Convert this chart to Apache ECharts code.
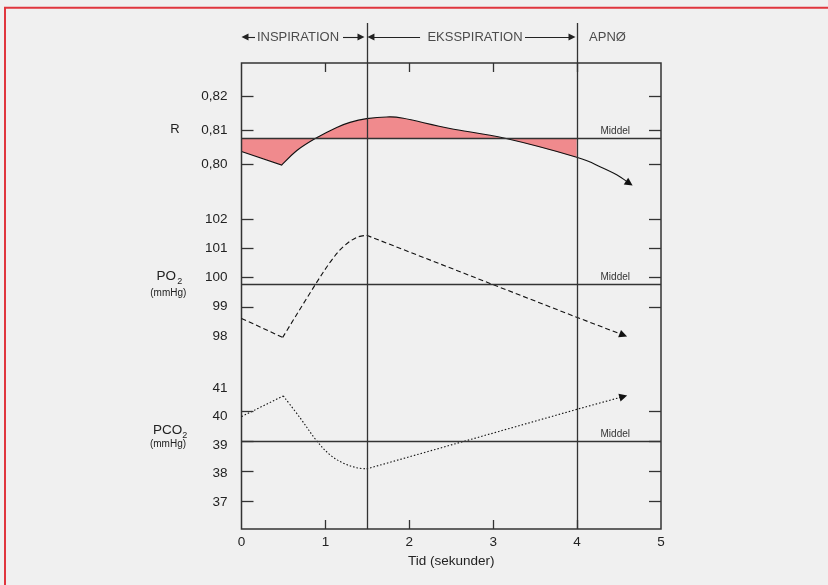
<!DOCTYPE html>
<html><head><meta charset="utf-8">
<script src="https://cdn.jsdelivr.net/npm/echarts@6/dist/echarts.min.js"></script>
<style>html,body{margin:0;padding:0;background:#f0f0f0;}#c{width:828px;height:585px;}</style>
</head><body><div id="c"></div>
<script>
// ---------- data ----------
const xTickValues = [1, 2, 3, 4];
const xLabelValues = [0, 1, 2, 3, 4, 5];
const phaseBounds = [1.5, 4];
const phaseNames = ['INSPIRATION', 'EKSSPIRATION', 'APNØ'];

const rX = [0, 0.479, 0.66, 0.884, 1.135, 1.293, 1.492, 1.730, 1.929, 2.485, 3.141, 3.995, 4.273, 4.472, 4.622];
const rY = [0.8037, 0.7997, 0.8040, 0.8076, 0.8108, 0.8123, 0.8134, 0.8139, 0.8135, 0.8105, 0.8076, 0.8020, 0.7992, 0.7968, 0.7943];
const rMean = 0.8076;
const rFillEnd = 11; // last index of the shaded part (t = 4 s)
const rTicks = [0.80, 0.81, 0.82];

const poX = [0, 0.491, 0.884, 1.075, 1.214, 1.373, 1.492, 3.995, 4.551];
const poY = [98.60, 97.95, 99.78, 100.60, 101.06, 101.38, 101.45, 98.64, 98.03];
const poMean = 99.78;
const poTicks = [99, 100, 101, 102];
const poLabels = [98, 99, 100, 101, 102];

const pcX = [0, 0.498, 0.70, 0.896, 1.055, 1.214, 1.373, 1.492, 3.995, 4.551];
const pcY = [39.83, 40.52, 39.78, 39.02, 38.55, 38.27, 38.12, 38.08, 40.07, 40.50];
const pcMean = 39.02;
const pcTicks = [37, 38, 39, 40];
const pcLabels = [37, 38, 39, 40, 41];

// ---------- layout ----------
const FONT = "'Liberation Sans', Arial, Helvetica, sans-serif";
const INK = '#222';
const LINE = '#333';
const PINK = '#f08a8d';
const GL = 241.5, GR = 167;
const headerRow = 0.65;
const headerArrows = [[0.161, 0.042], [1.210, 1.424], [2.128, 1.543], [3.379, 3.939]];
const headerLabelX = [0.673, 2.783, 4.362];

const pts = (xs, ys, a, b) => xs.slice(a, b).map((x, i) => [x, ys[a + i]]);
const n = (a) => a.length;

const grids = [
  {left: GL, right: GR, top: 63, bottom: 56, show: true, borderColor: LINE, borderWidth: 1.5, backgroundColor: 'transparent', z: 3},
  {left: GL, right: GR, top: 23, height: 40},
  {left: GL, right: GR, top: 63, height: 137},
  {left: GL, right: GR, top: 200, height: 160},
  {left: GL, right: GR, top: 360, bottom: 56}
];
const hiddenX = (g) => ({type: 'value', gridIndex: g, min: 0, max: 5, show: false});
const tickStyle = {color: LINE, width: 1.3};
const xAxes = [
  {type: 'value', gridIndex: 0, min: 0, max: 5, position: 'bottom',
   axisLine: {show: false}, splitLine: {show: false},
   axisTick: {inside: true, length: 9, customValues: xTickValues, lineStyle: tickStyle},
   axisLabel: {customValues: xLabelValues, fontSize: 13.5, color: INK, margin: 6, fontFamily: FONT},
   name: 'Tid (sekunder)', nameLocation: 'middle', nameGap: 23,
   nameTextStyle: {fontSize: 13.5, color: INK, fontFamily: FONT}},
  {type: 'value', gridIndex: 0, min: 0, max: 5, position: 'top',
   axisLine: {show: false}, splitLine: {show: false},
   axisTick: {inside: true, length: 9, customValues: xTickValues, lineStyle: tickStyle},
   axisLabel: {show: false}},
  hiddenX(1), hiddenX(2), hiddenX(3), hiddenX(4)
];
const panelY = (g, min, max, ticks, labels, fmt, side) => ({
  type: 'value', gridIndex: g, min: min, max: max, position: side, z: 4,
  axisLine: {show: false}, splitLine: {show: false},
  axisTick: {show: ticks.length > 0, inside: true, length: 12, customValues: ticks, lineStyle: tickStyle},
  axisLabel: labels.length
    ? {show: true, customValues: labels, formatter: fmt, fontSize: 13.5, color: INK, margin: 14, fontFamily: FONT}
    : {show: false}
});
const rFmt = (v) => v.toFixed(2).replace('.', ',');
const iFmt = (v) => String(Math.round(v));
const yAxes = [
  {type: 'value', gridIndex: 0, min: 0, max: 1, show: false},
  {type: 'value', gridIndex: 1, min: 0, max: 1, show: false},
  panelY(2, 0.78937, 0.82984, rTicks, rTicks, rFmt, 'left'),
  panelY(2, 0.78937, 0.82984, rTicks, [], rFmt, 'right'),
  panelY(3, 97.175, 102.66, poTicks, poLabels, iFmt, 'left'),
  panelY(3, 97.175, 102.66, poTicks, [], iFmt, 'right'),
  panelY(4, 36.070, 41.722, pcTicks, [], iFmt, 'left'),
  panelY(4, 36.070, 41.722, pcTicks, [], iFmt, 'right'),
  // the PCO2 numbers in the original sit slightly apart from their ticks
  panelY(4, 36.053, 41.982, [], pcLabels, iFmt, 'left')
];

const vLines = {
  silent: true, symbol: 'none', animation: false, precision: 4,
  label: {show: false},
  lineStyle: {color: LINE, width: 1.3, type: 'solid'},
  data: phaseBounds.map(b => ({xAxis: b}))
};
const middelMark = (v) => ({
  silent: true, animation: false, symbol: 'none', precision: 6,
  lineStyle: {color: LINE, width: 1.3, type: 'solid'},
  label: {show: true, formatter: 'Middel', position: 'insideEndTop', fontSize: 10, color: '#333',
          fontFamily: FONT, distance: 2, padding: [0, 29, 0, 0]},
  data: [{yAxis: v}]
});
const arrowMark = (xs, ys) => ({
  silent: true, animation: false, symbol: ['none', 'triangle'], symbolSize: 8, precision: 6,
  label: {show: false},
  lineStyle: {color: '#111', width: 0},
  data: [[{coord: [xs[n(xs) - 2], ys[n(ys) - 2]]}, {coord: [xs[n(xs) - 1], ys[n(ys) - 1]]}]]
});
const lineSeries = (xi, yi, data, smooth, type, extra) => Object.assign({
  type: 'line', xAxisIndex: xi, yAxisIndex: yi, data: data, smooth: smooth ? 0.35 : false,
  symbol: 'none', showSymbol: false, silent: true, animation: false,
  lineStyle: {color: '#111', width: 1.1, type: type}
}, extra || {});

// Catmull-Rom -> cubic Bezier through pixel points (pixels come from api.coord)
function bezierThrough(P) {
  let d = '';
  for (let i = 0; i < P.length - 1; i++) {
    const p0 = P[Math.max(i - 1, 0)], p1 = P[i], p2 = P[i + 1], p3 = P[Math.min(i + 2, P.length - 1)];
    const c1 = [p1[0] + (p2[0] - p0[0]) / 6, p1[1] + (p2[1] - p0[1]) / 6];
    const c2 = [p2[0] - (p3[0] - p1[0]) / 6, p2[1] - (p3[1] - p1[1]) / 6];
    d += ` C ${c1[0]} ${c1[1]} ${c2[0]} ${c2[1]} ${p2[0]} ${p2[1]}`;
  }
  return d;
}
const rCurveSeries = {
  type: 'custom', coordinateSystem: 'cartesian2d', xAxisIndex: 3, yAxisIndex: 2,
  silent: true, animation: false, clip: false, z: 2,
  data: pts(rX, rY, 0, n(rX)),
  renderItem: function (params, api) {
    if (params.dataIndex !== 0) return null;
    const P = rX.map((x, i) => api.coord([x, rY[i]]));
    const fillPts = P.slice(1, rFillEnd + 1);
    const m0 = api.coord([rX[0], rMean]);
    const m1 = api.coord([rX[rFillEnd], rMean]);
    const fillD = `M ${P[0][0]} ${P[0][1]} L ${P[1][0]} ${P[1][1]}` + bezierThrough(fillPts) +
      ` L ${m1[0]} ${m1[1]} L ${m0[0]} ${m0[1]} Z`;
    const lineD = `M ${P[0][0]} ${P[0][1]} L ${P[1][0]} ${P[1][1]}` + bezierThrough(P.slice(1));
    return {type: 'group', children: [
      {type: 'path', shape: {pathData: fillD}, style: {fill: PINK, stroke: null}},
      {type: 'path', shape: {pathData: lineD}, style: {fill: null, stroke: '#111', lineWidth: 1.1}}
    ]};
  }
};

const series = [
  {type: 'line', xAxisIndex: 0, yAxisIndex: 0, data: [], markLine: vLines, silent: true},
  {type: 'line', xAxisIndex: 2, yAxisIndex: 1, data: [], silent: true,
   markLine: {
     silent: true, animation: false, symbol: ['none', 'triangle'], symbolSize: 7, precision: 4,
     label: {show: false}, lineStyle: {color: INK, width: 1.1, type: 'solid'},
     data: phaseBounds.map(b => [{coord: [b, 0], symbol: 'none'}, {coord: [b, 1], symbol: 'none', lineStyle: {color: LINE, width: 1.3}}])
       .concat(headerArrows.map(a => [{coord: [a[0], headerRow]}, {coord: [a[1], headerRow]}]))
   }},
  {type: 'scatter', xAxisIndex: 2, yAxisIndex: 1, silent: true, symbolSize: 1,
   itemStyle: {color: 'transparent'},
   data: phaseNames.map((t, i) => ({name: t, value: [headerLabelX[i], headerRow]})),
   label: {show: true, position: 'inside', formatter: (p) => p.name, fontSize: 13, color: INK, fontFamily: FONT}},
  // R
  rCurveSeries,
  lineSeries(3, 2, pts(rX, rY, 0, 2), false, 'solid', {lineStyle: {width: 0, opacity: 0}, markLine: middelMark(rMean)}),
  lineSeries(3, 2, pts(rX, rY, n(rX) - 2, n(rX)), false, 'solid', {lineStyle: {width: 0, opacity: 0}, markLine: arrowMark(rX, rY)}),
  // PO2
  lineSeries(4, 4, pts(poX, poY, 0, 2), false, [5, 3], {markLine: middelMark(poMean)}),
  lineSeries(4, 4, pts(poX, poY, 1, 7), true, [5, 3]),
  lineSeries(4, 4, pts(poX, poY, 6, n(poX)), false, [5, 3], {markLine: arrowMark(poX, poY)}),
  // PCO2
  lineSeries(5, 6, pts(pcX, pcY, 0, 2), false, [1.5, 2], {markLine: middelMark(pcMean)}),
  lineSeries(5, 6, pts(pcX, pcY, 1, 8), true, [1.5, 2]),
  lineSeries(5, 6, pts(pcX, pcY, 7, n(pcX)), false, [1.5, 2], {markLine: arrowMark(pcX, pcY)})
];

const txt = (x, y, t, size, align) => ({type: 'text', x: x, y: y, silent: true,
  style: {text: t, fontSize: size, fill: INK, fontFamily: FONT, align: align || 'left', verticalAlign: 'middle'}});
const graphic = [
  {type: 'polyline', silent: true, shape: {points: [[5, 585], [5, 7.7], [828, 7.7]]},
   style: {stroke: '#e0363e', lineWidth: 2, fill: null}},
  txt(175, 129.5, 'R', 13, 'center'),
  txt(156.5, 276, 'PO', 13.5),
  txt(177.3, 281.5, '2', 9),
  txt(168.3, 293.7, '(mmHg)', 10, 'center'),
  txt(153, 430.7, 'PCO', 13.5),
  txt(182.3, 436, '2', 9),
  txt(168, 444.3, '(mmHg)', 10, 'center')
];

const chart = echarts.init(document.getElementById('c'), null, {renderer: 'canvas'});
chart.setOption({
  backgroundColor: '#f0f0f0',
  animation: false,
  textStyle: {fontFamily: FONT},
  grid: grids, xAxis: xAxes, yAxis: yAxes, series: series, graphic: graphic
});
</script></body></html>
